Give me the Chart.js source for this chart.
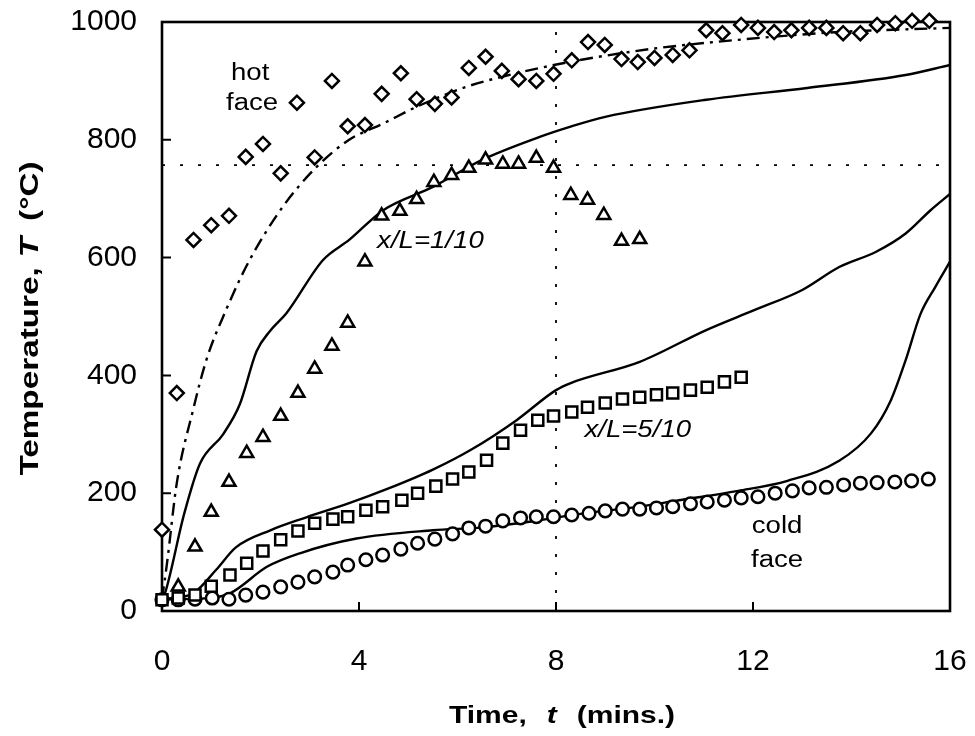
<!DOCTYPE html>
<html>
<head>
<meta charset="utf-8">
<script src="https://cdn.jsdelivr.net/npm/chart.js@4.4.1/dist/chart.umd.min.js"></script>
<style>
  html, body { margin: 0; padding: 0; background: #fff; }
  #wrap { width: 975px; height: 736px; position: relative; }
</style>
</head>
<body>
<div id="wrap"><canvas id="chart"></canvas></div>
<script>
// ── measured data (time in mins, temperature in °C) ──
const xTicks = [0, 4, 8, 12, 16];
const yTicks = [0, 200, 400, 600, 800, 1000];

// hot face thermocouple (diamonds)
const hotTimes = [0, 0.30, 0.64, 1.00, 1.36, 1.70, 2.05, 2.41, 2.74, 3.10, 3.45, 3.77, 4.12, 4.46, 4.85, 5.17,
  5.54, 5.88, 6.23, 6.57, 6.90, 7.24, 7.60, 7.95, 8.32, 8.65, 8.99, 9.33, 9.66, 10.00, 10.37, 10.71, 11.05,
  11.38, 11.76, 12.10, 12.43, 12.78, 13.14, 13.49, 13.83, 14.18, 14.52, 14.89, 15.23, 15.58];
const hotTemps = [138, 370, 630, 655, 671, 771, 793, 743, 863, 770, 900, 823, 825, 878, 913, 869,
  861, 872, 922, 941, 917, 903, 900, 912, 935, 966, 961, 937, 932, 939, 944, 952, 986,
  981, 995, 990, 983, 986, 990, 990, 981, 981, 995, 998, 1002, 1002];

// x/L = 1/10 (triangles)
const tenthTimes = [0.33, 0.67, 1.00, 1.36, 1.72, 2.05, 2.41, 2.76, 3.10, 3.45, 3.77, 4.12, 4.46, 4.83,
  5.17, 5.52, 5.88, 6.23, 6.57, 6.92, 7.24, 7.60, 7.95, 8.30, 8.64, 8.97, 9.33, 9.70];
const tenthTemps = [41, 109, 168, 219, 268, 295, 331, 370, 411, 450, 489, 593, 671, 679,
  699, 728, 740, 752, 766, 759, 759, 769, 752, 706, 698, 672, 628, 631];

// x/L = 5/10 (squares)
const halfTimes = [0, 0.33, 0.67, 1.00, 1.38, 1.72, 2.05, 2.41, 2.76, 3.10, 3.47, 3.77, 4.14, 4.48, 4.87,
  5.19, 5.56, 5.90, 6.23, 6.59, 6.92, 7.28, 7.63, 7.95, 8.32, 8.64, 9.00, 9.35, 9.70, 10.04, 10.37,
  10.73, 11.07, 11.42, 11.76];
const halfTemps = [19, 22, 27, 42, 61, 81, 102, 121, 136, 149, 156, 160, 171, 177, 188,
  200, 212, 224, 236, 256, 285, 307, 324, 331, 338, 346, 353, 360, 363, 367, 370,
  375, 380, 389, 397];

// cold face (circles)
const coldTimes = [0, 0.33, 0.67, 1.02, 1.36, 1.70, 2.05, 2.41, 2.76, 3.10, 3.47, 3.77, 4.14, 4.48, 4.85,
  5.19, 5.54, 5.90, 6.23, 6.57, 6.92, 7.28, 7.60, 7.95, 8.32, 8.67, 9.00, 9.35, 9.70, 10.04, 10.37,
  10.73, 11.07, 11.42, 11.76, 12.10, 12.45, 12.80, 13.14, 13.49, 13.84, 14.18, 14.52, 14.88, 15.22, 15.56];
const coldTemps = [19, 19, 20, 22, 20, 27, 32, 41, 49, 58, 66, 78, 87, 95, 105,
  115, 122, 131, 141, 144, 153, 158, 160, 160, 163, 166, 170, 173, 173, 175, 177,
  182, 185, 188, 192, 194, 200, 204, 209, 210, 214, 217, 218, 219, 221, 224];

// model curves
const hotModelT = [0, 0.1, 0.3, 0.63, 0.9, 1.3, 1.78, 2.45, 3.14, 3.8, 4.5, 5.17, 6.18, 7.2, 8.2, 8.8, 10, 11.6, 13.75, 16];
const hotModelV = [20, 80, 217, 341, 426, 511, 596, 686, 754, 800, 828, 856, 890, 913, 931, 940, 955, 969, 983, 990];

const tenthModelT = [0, 0.06, 0.45, 0.77, 1.24, 1.58, 1.92, 2.19, 2.53, 3.27, 3.8, 4.5, 5.5, 6.5, 7.67, 8.28, 9.0, 11.05, 13.1, 15.1, 16];
const tenthModelV = [20, 30, 165, 250, 300, 351, 441, 475, 506, 596, 630, 681, 720, 766, 805, 822, 839, 868, 888, 910, 927];

const halfModelT = [0, 0.4, 0.64, 1.1, 1.5, 2.2, 2.93, 3.8, 4.6, 5.5, 6.3, 7.2, 8.0, 8.3, 9.7, 11.05, 12, 13, 13.75, 14.5, 15.1, 15.6, 16];
const halfModelV = [20, 24, 30, 70, 108, 137, 159, 183, 208, 240, 275, 324, 375, 387, 423, 477, 510, 545, 584, 610, 641, 680, 708];

const coldModelT = [0, 0.8, 1.38, 2.13, 2.8, 3.95, 5.5, 6.5, 7.5, 8.5, 9.5, 10.5, 11.7, 12.7, 13.75, 14.4, 14.8, 15.1, 15.4, 15.7, 16];
const coldModelV = [20, 21, 30, 75, 98, 123, 137, 142, 152, 165, 175, 188, 204, 221, 255, 302, 358, 426, 504, 550, 593];

// dotted guide lines
const refTemp = 757;
const refTime = 8;

const labels = [
  { text: "hot", t: 1.79, v: 901, style: "normal" },
  { text: "face", t: 1.83, v: 850, style: "normal" },
  { text: "x/L=1/10", t: 5.45, v: 616, style: "italic" },
  { text: "x/L=5/10", t: 9.66, v: 295, style: "italic" },
  { text: "cold", t: 12.49, v: 132, style: "normal" },
  { text: "face", t: 12.49, v: 75, style: "normal" },
];

function pts(xs, ys) {
  return xs.map((x, i) => ({ x, y: ys[i] }));
}

const FAMILY = "'Liberation Sans', Arial, Helvetica, sans-serif";
Chart.defaults.font.family = FAMILY;
Chart.defaults.color = "#000";

function marker(data, style, r) {
  return {
    data,
    showLine: false,
    pointStyle: style,
    pointRadius: r,
    pointHoverRadius: r,
    pointBorderWidth: 2.5,
    borderColor: "#000",
    backgroundColor: "#fff",
    clip: false,
    order: 1,
  };
}

function curve(data, dash) {
  return {
    data,
    showLine: true,
    pointRadius: 0,
    borderColor: "#000",
    borderWidth: 2.4,
    borderDash: dash || [],
    cubicInterpolationMode: "monotone",
    fill: false,
    order: 2,
  };
}

function guide(data) {
  return {
    data,
    showLine: true,
    pointRadius: 0,
    borderColor: "#000",
    borderWidth: 1.8,
    borderDash: [3, 15],
    tension: 0,
    fill: false,
    order: 3,
  };
}

// text drawn a little wider than the font, like the original typesetting
function drawWide(ctx, parts, x, y, sx, align) {
  let total = 0;
  for (const p of parts) {
    if (p.gap) { total += p.gap; continue; }
    ctx.font = p.font;
    total += ctx.measureText(p.text).width * sx;
  }
  let cx = align === "center" ? x - total / 2 : align === "right" ? x - total : x;
  for (const p of parts) {
    if (p.gap) { cx += p.gap; continue; }
    ctx.font = p.font;
    ctx.save();
    ctx.translate(cx, y);
    ctx.scale(sx, 1);
    ctx.fillText(p.text, 0, 0);
    ctx.restore();
    cx += ctx.measureText(p.text).width * sx;
  }
}

const framePlugin = {
  id: "frame",
  beforeDatasetsDraw(chart) {
    const { ctx, chartArea: a, scales } = chart;
    ctx.save();
    ctx.strokeStyle = "#000";
    ctx.lineWidth = 2.6;
    ctx.strokeRect(a.left, a.top, a.right - a.left, a.bottom - a.top);
    ctx.lineWidth = 2;
    ctx.beginPath();
    for (const v of yTicks) {
      const y = scales.y.getPixelForValue(v);
      ctx.moveTo(a.left, y);
      ctx.lineTo(a.left + 9, y);
    }
    for (const t of xTicks) {
      const x = scales.x.getPixelForValue(t);
      ctx.moveTo(x, a.bottom);
      ctx.lineTo(x, a.bottom - 9);
    }
    ctx.stroke();
    ctx.restore();
  },
  afterDraw(chart) {
    const { ctx, chartArea: a, scales } = chart;
    ctx.save();
    ctx.fillStyle = "#000";
    ctx.textBaseline = "alphabetic";

    // annotations
    for (const l of labels) {
      const x = scales.x.getPixelForValue(l.t);
      const y = scales.y.getPixelForValue(l.v);
      drawWide(ctx, [{ text: l.text, font: l.style + " 23px " + FAMILY }], x, y, 1.2, "center");
    }

    // x title
    const bold = "bold 24px " + FAMILY;
    const boldIt = "italic bold 24px " + FAMILY;
    drawWide(ctx, [
      { text: "Time,", font: bold }, { gap: 20 },
      { text: "t", font: boldIt }, { gap: 20 },
      { text: "(mins.)", font: bold },
    ], (a.left + a.right) / 2 + 6, 723, 1.25, "center");

    // y title
    ctx.translate(38, (a.top + a.bottom) / 2 + 2);
    ctx.rotate(-Math.PI / 2);
    const bold2 = "bold 26px " + FAMILY;
    const boldIt2 = "italic bold 26px " + FAMILY;
    drawWide(ctx, [
      { text: "Temperature,", font: bold2 }, { gap: 10 },
      { text: "T", font: boldIt2 }, { gap: 16 },
      { text: "(°C)", font: bold2 },
    ], 0, 0, 1.28, "center");
    ctx.restore();
  },
};

new Chart(document.getElementById("chart"), {
  type: "scatter",
  data: {
    datasets: [
      marker(pts(hotTimes, hotTemps), "rectRot", 7),
      marker(pts(tenthTimes, tenthTemps), "triangle", 7.5),
      marker(pts(halfTimes, halfTemps), "rect", 7.8),
      marker(pts(coldTimes, coldTemps), "circle", 6.3),
      curve(pts(hotModelT, hotModelV), [13, 6, 3, 6]),
      curve(pts(tenthModelT, tenthModelV)),
      curve(pts(halfModelT, halfModelV)),
      curve(pts(coldModelT, coldModelV)),
      guide([{ x: 0, y: refTemp }, { x: 16, y: refTemp }]),
      guide([{ x: refTime, y: 0 }, { x: refTime, y: 1000 }]),
    ],
  },
  options: {
    responsive: true,
    maintainAspectRatio: false,
    animation: false,
    events: [],
    layout: { padding: { top: 22, right: 25, left: 0, bottom: 0 } },
    plugins: {
      legend: { display: false },
      tooltip: { enabled: false },
    },
    scales: {
      x: {
        type: "linear",
        min: 0,
        max: 16,
        afterBuildTicks: (s) => { s.ticks = xTicks.map((v) => ({ value: v })); },
        afterFit: (s) => { s.height = 125; s.paddingLeft = 0; s.paddingRight = 0; },
        ticks: { font: { size: 30 }, color: "#000", padding: 33, callback: (v) => String(v) },
        grid: { display: false, drawTicks: false },
        border: { display: false },
      },
      y: {
        type: "linear",
        min: 0,
        max: 1000,
        afterBuildTicks: (s) => { s.ticks = yTicks.map((v) => ({ value: v })); },
        afterFit: (s) => { s.width = 162; s.paddingTop = 0; s.paddingBottom = 0; },
        ticks: { font: { size: 30 }, color: "#000", padding: 25, callback: (v) => String(v) },
        grid: { display: false, drawTicks: false },
        border: { display: false },
      },
    },
  },
  plugins: [framePlugin],
});
</script>
</body>
</html>
